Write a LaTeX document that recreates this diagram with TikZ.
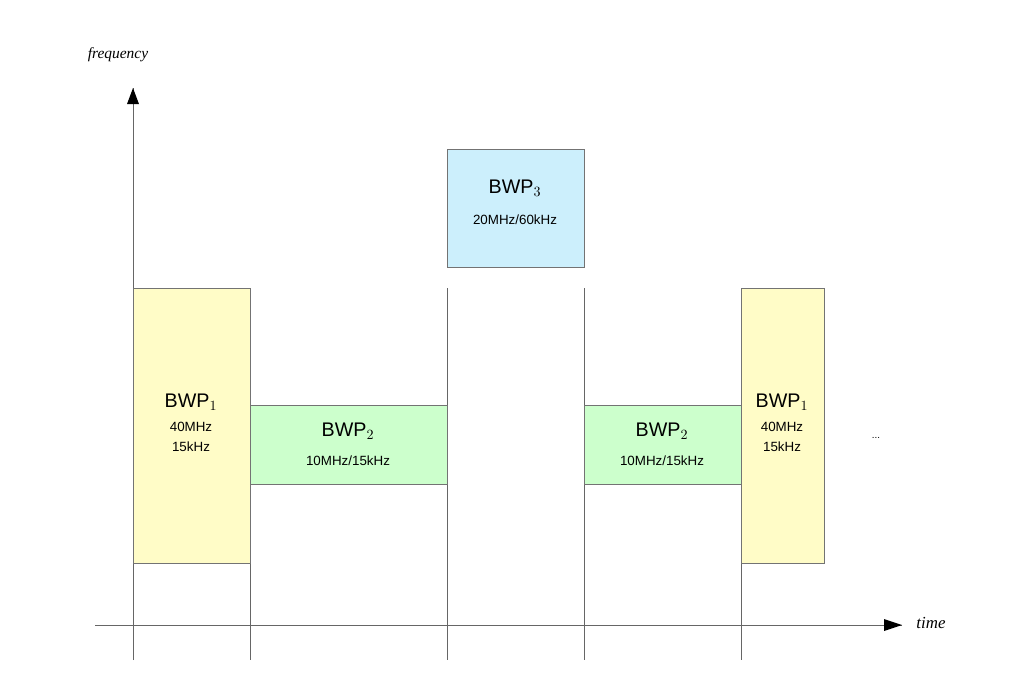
\documentclass[tikz,border=0pt]{standalone}
\usepackage{fontspec}
\setmainfont{Liberation Sans}
\newfontfamily\serifit{Liberation Serif}
\begin{document}
\begin{tikzpicture}[x=0.025cm,y=-0.025cm,
  box/.style={draw=black!55,line width=0.5pt,minimum width=0pt,inner sep=0pt},
  grid/.style={draw=black!60,line width=0.5pt},
  big/.style={font=\fontsize{14}{16}\selectfont},
  small/.style={font=\fontsize{9.5}{14}\selectfont}]
\useasboundingbox (0,0) rectangle (1030,693);
\coordinate (ytop) at (133,88);
\coordinate (ybot) at (133,660);
\coordinate (xl) at (95,625);
\coordinate (xr) at (902,625);
\foreach \x in {250,447,584,741} \draw[grid] (\x,288) -- (\x,660);
\draw[grid] (ybot) -- (ytop);
\fill (133,88) -- (127,104) -- (139,104) -- cycle;
\draw[grid] (xl) -- (xr);
\fill (902,625) -- (884,619) -- (884,631) -- cycle;
\fill[yellow!22] (133,288) rectangle (250,563);
\draw[box] (133,288) rectangle (250,563);
\fill[green!20] (250,405) rectangle (447,484);
\draw[box] (250,405) rectangle (447,484);
\fill[cyan!20] (447,149) rectangle (584,267);
\draw[box] (447,149) rectangle (584,267);
\fill[green!20] (584,405) rectangle (741,484);
\draw[box] (584,405) rectangle (741,484);
\fill[yellow!22] (741,288) rectangle (824,563);
\draw[box] (741,288) rectangle (824,563);
\node[big] (b1) at (191,402) {BWP$_1$};
\node[small,align=center] (b1t) at (191,437) {40MHz\\15kHz};
\node[big] (b2) at (348,431) {BWP$_2$};
\node[small] (b2t) at (348,461) {10MHz/15kHz};
\node[big] (b3) at (515,188) {BWP$_3$};
\node[small] (b3t) at (515,220) {20MHz/60kHz};
\node[big] (b4) at (662,431) {BWP$_2$};
\node[small] (b4t) at (662,461) {10MHz/15kHz};
\node[big] (b5) at (782,402) {BWP$_1$};
\node[small,align=center] (b5t) at (782,437) {40MHz\\15kHz};
\node[font=\fontsize{7}{8}\selectfont] (dots) at (876,438) {...};
\node[font=\serifit\itshape\fontsize{11}{12}\selectfont] (freq) at (118,55) {frequency};
\node[font=\serifit\itshape\fontsize{12}{14}\selectfont] (time) at (931,623) {time};
\end{tikzpicture}
\end{document}
